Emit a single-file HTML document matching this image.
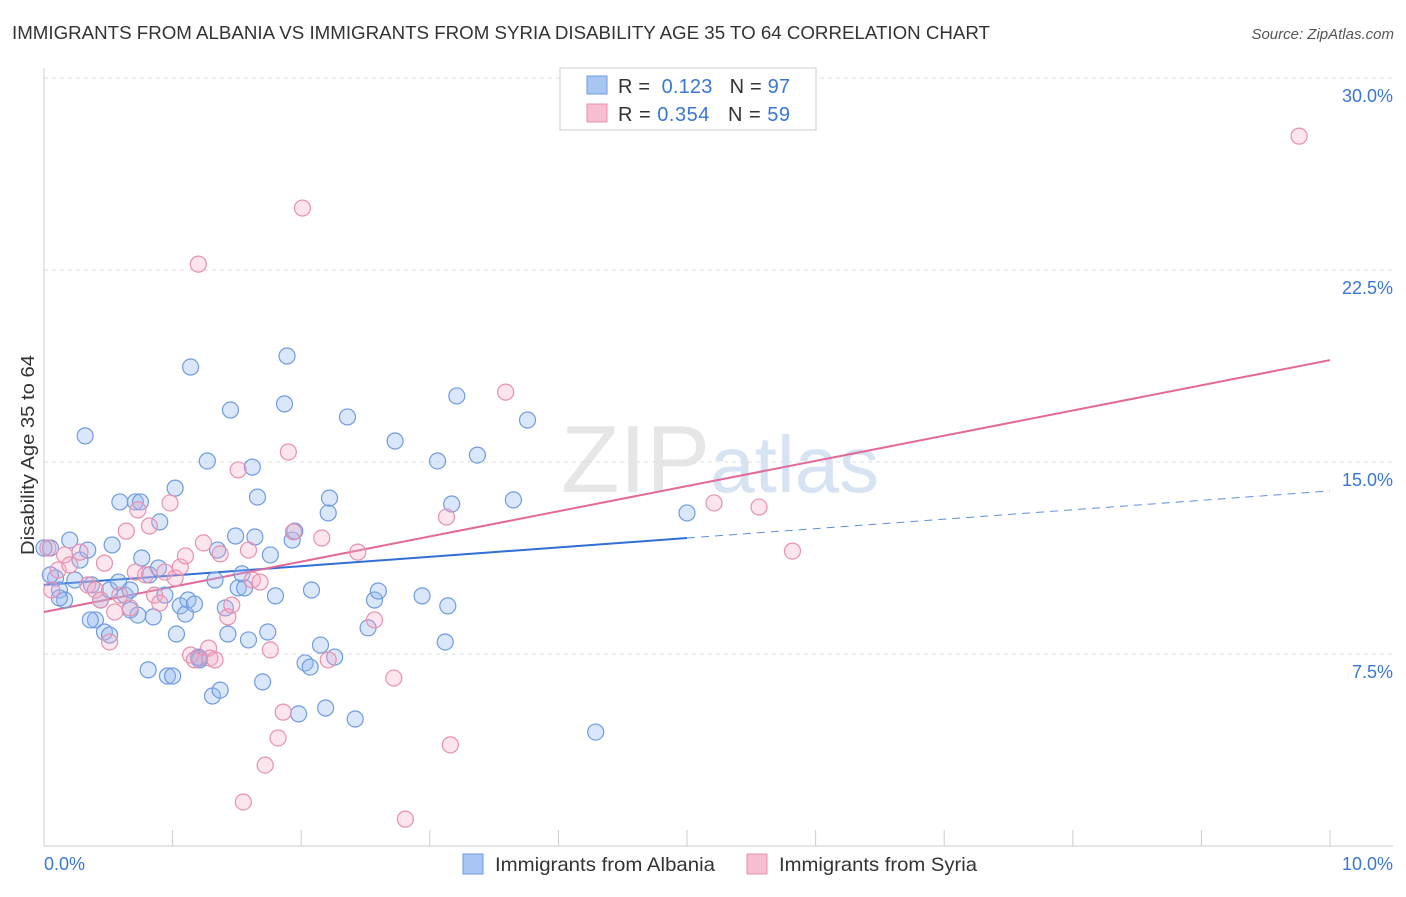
<!DOCTYPE html>
<html><head><meta charset="utf-8"><style>
body{margin:0;background:#fff;font-family:"Liberation Sans",sans-serif;}
svg text{font-family:"Liberation Sans",sans-serif;}
</style></head><body>
<svg id="chart" width="1406" height="892" xmlns="http://www.w3.org/2000/svg">
<text x="12" y="39" font-size="18.5" fill="#333" textLength="978" lengthAdjust="spacingAndGlyphs">IMMIGRANTS FROM ALBANIA VS IMMIGRANTS FROM SYRIA DISABILITY AGE 35 TO 64 CORRELATION CHART</text>
<text x="1394" y="39" font-size="15" fill="#555" text-anchor="end" font-style="italic">Source: ZipAtlas.com</text>
<text x="720" y="492" font-size="96" fill="#e6e6e6" text-anchor="middle" font-family="Liberation Serif">ZIP<tspan fill="#d6e3f3" font-family="Liberation Sans" font-size="80">atlas</tspan></text>
<text x="-555" y="34" transform="rotate(-90)" font-size="18" fill="#333" textLength="200" lengthAdjust="spacingAndGlyphs">Disability Age 35 to 64</text>
<g id="grid"></g><g id="axes"></g><g id="trends"></g><g id="pts"></g>
<g>
<rect x="560" y="68" width="256" height="62" fill="#fff" stroke="#ccc"/>
<rect x="587" y="76" width="20" height="18" fill="#a9c6f3" stroke="#6f9be0"/>
<text x="618" y="93" font-size="20" fill="#333" textLength="172" lengthAdjust="spacing">R = <tspan fill="#3a76d6">&#160;0.123</tspan>&#160;&#160;&#160;N = <tspan fill="#3a76d6">97</tspan></text>
<rect x="587" y="104" width="20" height="18" fill="#f7bdd0" stroke="#e890b0"/>
<text x="618" y="121" font-size="20" fill="#333" textLength="172" lengthAdjust="spacing">R = <tspan fill="#3a76d6">0.354</tspan>&#160;&#160;&#160;N = <tspan fill="#3a76d6">59</tspan></text>
</g>
<g>
<rect x="463" y="854" width="20" height="20" fill="#a9c6f3" stroke="#6f9be0"/>
<text x="495" y="871" font-size="19.5" fill="#333" textLength="220" lengthAdjust="spacingAndGlyphs">Immigrants from Albania</text>
<rect x="747" y="854" width="20" height="20" fill="#f7bdd0" stroke="#e890b0"/>
<text x="779" y="871" font-size="19.5" fill="#333" textLength="198" lengthAdjust="spacingAndGlyphs">Immigrants from Syria</text>
</g>
</svg>
<script>
const yTicks=[7.5,15,22.5,30];
const yTickLabels=["7.5%","15.0%","22.5%","30.0%"];
const xTickLabels=["0.0%","10.0%"];
const albaniaX=[0.05,0.09,0.12,0.16,0.20,0.24,0.28,0.32,0.34,0.37,0.40,0.44,0.47,0.51,0.53,0.58,0.59,0.63,0.67,0.71,0.73,0.75,0.76,0.81,0.82,0.85,0.89,0.90,0.94,0.96,1.00,1.02,1.03,1.06,1.10,1.12,1.14,1.17,1.20,1.21,1.27,1.31,1.33,1.35,1.37,1.41,1.43,1.45,1.49,1.51,1.54,1.56,1.59,1.62,1.64,1.66,1.70,1.74,1.76,1.80,1.87,1.89,1.93,1.95,1.98,2.03,2.07,2.08,2.15,2.19,2.21,2.22,2.26,2.36,2.42,2.52,2.57,2.60,2.73,2.94,3.06,3.12,3.14,3.17,3.21,3.37,3.65,3.76,4.29,5.00,0,0.05,0.12,0.36,0.51,0.67,1.21];
const albaniaY=[11.64,10.47,10.0,9.61,11.95,10.39,11.17,16.02,11.56,10.2,8.83,9.61,8.36,10.0,11.76,10.31,13.44,9.8,10.0,13.44,9.02,13.44,11.25,6.88,10.59,8.95,10.86,12.66,9.8,6.64,6.64,13.98,8.28,9.38,9.06,9.61,18.71,9.45,7.38,7.27,15.04,5.86,10.39,11.56,6.09,9.3,8.28,17.03,12.11,10.08,10.63,10.08,8.05,14.8,12.07,13.63,6.41,8.36,11.37,9.77,17.27,19.14,11.95,12.3,5.16,7.15,6.99,10.0,7.85,5.39,13.01,13.59,7.38,16.76,4.96,8.52,9.61,9.96,15.82,9.77,15.04,7.97,9.38,13.36,17.58,15.27,13.52,16.64,4.45,13.01,11.64,10.59,9.69,8.83,8.24,9.22,7.34];
const syriaX=[0.03,0.06,0.11,0.16,0.20,0.28,0.34,0.40,0.44,0.47,0.51,0.55,0.59,0.64,0.67,0.71,0.73,0.79,0.82,0.86,0.90,0.94,0.98,1.02,1.06,1.10,1.14,1.17,1.20,1.24,1.28,1.29,1.33,1.37,1.43,1.46,1.51,1.55,1.59,1.62,1.68,1.72,1.76,1.82,1.86,1.90,1.94,2.01,2.16,2.21,2.44,2.57,2.72,2.81,3.13,3.16,3.59,5.21,5.56,5.82,9.76];
const syriaY=[11.64,10.0,10.78,11.37,10.98,11.48,10.2,10.0,9.61,11.05,7.97,9.14,9.8,12.3,9.3,10.7,13.13,10.59,12.5,9.8,9.49,10.7,13.4,10.47,10.9,11.33,7.46,7.27,22.73,11.84,7.73,7.34,7.27,11.41,8.95,9.41,14.69,1.72,11.56,10.39,10.31,3.16,7.66,4.22,5.23,15.39,12.27,24.92,12.03,7.27,11.48,8.83,6.56,1.05,12.85,3.95,17.73,13.4,13.24,11.52,27.73];
const albaniaTrend=[10.2,12.03,13.87];
const syriaTrend=[9.14,18.98];
const NS="http://www.w3.org/2000/svg";
const X=v=>44+v*128.6, Y=v=>846-v*25.6;
function mk(tag,attrs,parent){const e=document.createElementNS(NS,tag);for(const k in attrs)e.setAttribute(k,attrs[k]);document.getElementById(parent).appendChild(e);return e;}
yTicks.forEach((t,i)=>{
 let l=mk('line',{x1:44,x2:1393,y1:Y(t),y2:Y(t),stroke:'#ddd','stroke-dasharray':'4,4'},'grid');
 
 
 let tx=mk('text',{x:1393,y:Y(t)+24,'font-size':18,fill:'#3a76d6','text-anchor':'end'},'grid');
 tx.textContent=yTickLabels[i];
 
 
});
let ax=mk('line',{x1:44,x2:44,y1:68,y2:846,stroke:'#ccc'},'axes');


let bx=mk('line',{x1:44,x2:1393,y1:846,y2:846,stroke:'#ccc'},'axes');


for(let i=1;i<=10;i++){let t=mk('line',{x1:X(i),x2:X(i),y1:830,y2:846,stroke:'#ccc'},'axes');
 
 }
[[0,'start',44],[10,'end',1393]].forEach((a,i)=>{let t=mk('text',{x:a[2],y:870,'font-size':18,fill:'#3a76d6','text-anchor':a[1]},'axes');t.textContent=xTickLabels[i];
 
 });
let b1=mk('line',{x1:X(0),y1:Y(albaniaTrend[0]),x2:X(5),y2:Y(albaniaTrend[1]),stroke:'#2f6fd6','stroke-width':2},'trends');


let b2=mk('line',{x1:X(5),y1:Y(albaniaTrend[1]),x2:X(10),y2:Y(albaniaTrend[2]),stroke:'#5d8fde','stroke-width':1,'stroke-dasharray':'8,6'},'trends');


let p1=mk('line',{x1:X(0),y1:Y(syriaTrend[0]),x2:X(10),y2:Y(syriaTrend[1]),stroke:'#e26a98','stroke-width':2},'trends');


albaniaX.forEach((x,i)=>{let c=mk('circle',{cx:X(x),cy:Y(albaniaY[i]),r:8,fill:'rgba(150,185,240,0.35)',stroke:'#6f9be0','stroke-width':1.2},'pts');
 
 });
syriaX.forEach((x,i)=>{let c=mk('circle',{cx:X(x),cy:Y(syriaY[i]),r:8,fill:'rgba(245,170,195,0.3)',stroke:'#e890b0','stroke-width':1.2},'pts');
 
 });
</script>
</body></html>
